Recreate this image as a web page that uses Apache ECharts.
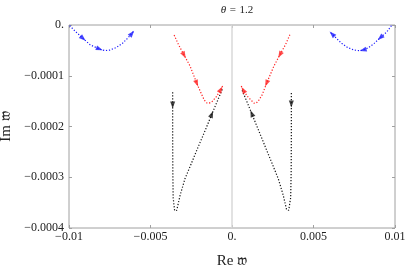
<!DOCTYPE html>
<html><head><meta charset="utf-8">
<script src="https://cdn.jsdelivr.net/npm/echarts@6/dist/echarts.min.js"></script>
<style>html,body{margin:0;padding:0;background:#fff}#c{width:407px;height:271px}</style>
</head><body><div id="c"></div>
<script>
// ---- tick labels ----
var xTickLabels = ['\u22120.01', '\u22120.005', '0.', '0.005', '0.01'];
var yTickLabels = ['\u22120.0004', '\u22120.0003', '\u22120.0002', '\u22120.0001', '0.'];
var xName = 'Re \ud835\udd34';
var yName = 'Im \ud835\udd34';

// ---- curves (x, y in units of 1e-5) ----
var blueLeftX  = [-0.00996, -0.0096, -0.00914, -0.0087, -0.00813, -0.0078, -0.0075, -0.0071, -0.0067, -0.0064, -0.00614, -0.0060];
var blueLeftY  = [-0.13, -1.3, -2.64, -3.9, -4.74, -5.05, -4.94, -4.44, -3.54, -2.6, -1.65, -1.0];
var blueLeftArrows = [2, 4, 10];

var blueRightX = [0.00978, 0.0095, 0.0091, 0.0087, 0.00835, 0.00804, 0.0078, 0.0075, 0.0071, 0.0067, 0.0064, 0.00614, 0.0060];
var blueRightY = [-0.13, -1.35, -2.5, -3.7, -4.5, -4.94, -5.05, -4.94, -4.44, -3.54, -2.6, -1.77, -1.32];
var blueRightArrows = [2, 5, 11];

var redLeftX = [-0.00355, -0.00329, -0.00294, -0.00257, -0.00216, -0.00186, -0.00170, -0.00155, -0.00140, -0.00124, -0.00094, -0.00069, -0.00053];
var redLeftY = [-1.98, -3.82, -5.93, -8.1, -11.5, -13.7, -14.8, -15.36, -15.4, -15.16, -14.04, -12.72, -11.73];
var redLeftArrows = [2, 4, 11];

var redRightX = [0.00355, 0.00329, 0.00294, 0.00257, 0.00212, 0.00186, 0.00165, 0.00150, 0.00135, 0.00124, 0.00094, 0.00069, 0.00053];
var redRightY = [-1.91, -3.82, -5.87, -8.1, -11.5, -13.7, -14.8, -15.36, -15.4, -15.2, -14.04, -12.8, -11.8];
var redRightArrows = [2, 4, 11];

var blackLeftX = [-0.00364, -0.00364, -0.00364, -0.00363, -0.00361, -0.00352, -0.00339, -0.00318, -0.00288, -0.00247, -0.00206, -0.00165, -0.00124, -0.00094, -0.00073, -0.00059];
var blackLeftY = [-13.25, -15.75, -22, -29, -34, -36.6, -36.5, -33.5, -30.25, -27.1, -23.9, -20.8, -17.6, -15.3, -13.7, -12.59];
var blackLeftArrows = [1, 12];

var blackRightX = [0.00364, 0.00364, 0.00364, 0.00363, 0.00360, 0.00348, 0.00335, 0.00314, 0.00284, 0.00246, 0.00206, 0.00165, 0.00121, 0.00094, 0.00073, 0.00059];
var blackRightY = [-13.4, -15.56, -22, -29, -34, -36.5, -36.4, -33.5, -30.3, -27.3, -24.15, -20.9, -17.45, -15.3, -13.7, -12.6];
var blackRightArrows = [1, 12];

var zeroLineX = [0, 0];
var zeroLineY = [0, -40];

var xMin = -0.01, xMax = 0.01, xStep = 0.005;
var yMin = -0.0004, yMax = 0, yStep = 0.0001;
var yUnit = 1e-5;

var curves = [
  {x: blueLeftX, y: blueLeftY, a: blueLeftArrows, c: '#1a1aff'},
  {x: blueRightX, y: blueRightY, a: blueRightArrows, c: '#1a1aff'},
  {x: redLeftX, y: redLeftY, a: redLeftArrows, c: '#ff2020'},
  {x: redRightX, y: redRightY, a: redRightArrows, c: '#ff2020'},
  {x: blackLeftX, y: blackLeftY, a: blackLeftArrows, c: '#111111'},
  {x: blackRightX, y: blackRightY, a: blackRightArrows, c: '#111111'}
];

function pts(xs, ys) { return xs.map(function (v, i) { return [v, ys[i] * yUnit]; }); }

var FONT = 'Liberation Serif, DejaVu Serif, serif';
var chart = echarts.init(document.getElementById('c'), null, {renderer: 'canvas'});

function tickLab(arr, min, step) {
  return function (v) { var i = Math.round((v - min) / step); return arr[i] !== undefined ? arr[i] : ''; };
}

var series = [{
  type: 'line', data: pts(zeroLineX, zeroLineY), symbol: 'none', silent: true,
  lineStyle: {color: '#d9d9d9', width: 1.5}, z: 1
}];
curves.forEach(function (c) {
  series.push({
    type: 'line', data: pts(c.x, c.y), symbol: 'none', silent: true,
    lineStyle: {color: c.c, width: 1.2, type: [1.2, 1.8]}, z: 2
  });
});

var tickStyle = {show: true, inside: true, length: 3, lineStyle: {color: '#a0a0a0'}};
var option = {
  animation: false,
  title: {
    text: '{i|\u03b8}\u2004=\u20041.2', left: 232, top: 0, textAlign: 'center',
    textStyle: {fontFamily: FONT, fontSize: 11, fontWeight: 'normal', color: '#222',
      rich: {i: {fontFamily: FONT, fontStyle: 'italic', fontSize: 11, color: '#222'}}}
  },
  grid: {left: 69, right: 12, top: 25, bottom: 43, show: true, borderColor: '#a0a0a0', borderWidth: 1,
    containLabel: false, outerBoundsMode: 'none'},
  xAxis: [{
    type: 'value', min: xMin, max: xMax, interval: xStep, position: 'bottom',
    axisLine: {show: false, onZero: false}, splitLine: {show: false}, axisTick: tickStyle,
    axisLabel: {formatter: tickLab(xTickLabels, xMin, xStep), fontFamily: FONT, fontSize: 12, color: '#222', margin: 3},
    name: xName, nameLocation: 'middle', nameGap: 26,
    nameTextStyle: {fontFamily: FONT, fontSize: 15, color: '#222'}
  }, {
    type: 'value', min: xMin, max: xMax, interval: xStep, position: 'top',
    axisLine: {show: false, onZero: false}, splitLine: {show: false}, axisLabel: {show: false},
    axisTick: tickStyle
  }],
  yAxis: [{
    type: 'value', min: yMin, max: yMax, interval: yStep, position: 'left',
    axisLine: {show: false, onZero: false}, splitLine: {show: false}, axisTick: tickStyle,
    axisLabel: {formatter: tickLab(yTickLabels, yMin, yStep), fontFamily: FONT, fontSize: 12, color: '#222', margin: 5},
    name: yName, nameLocation: 'middle', nameGap: 50, nameRotate: 90,
    nameTextStyle: {fontFamily: FONT, fontSize: 15, color: '#222'}
  }, {
    type: 'value', min: yMin, max: yMax, interval: yStep, position: 'right',
    axisLine: {show: false, onZero: false}, splitLine: {show: false}, axisLabel: {show: false},
    axisTick: tickStyle
  }],
  series: series
};
chart.setOption(option);

// arrows: direction from neighbouring curve points in pixel space
var arrowData = [];
curves.forEach(function (c) {
  var p = pts(c.x, c.y);
  c.a.forEach(function (i) {
    var a = chart.convertToPixel({xAxisIndex: 0, yAxisIndex: 0}, p[Math.max(0, i - 1)]);
    var b = chart.convertToPixel({xAxisIndex: 0, yAxisIndex: 0}, p[Math.min(p.length - 1, i + 1)]);
    var dx = b[0] - a[0], dy = b[1] - a[1];
    var rot = Math.atan2(-dx, -dy) * 180 / Math.PI;
    arrowData.push({value: p[i], symbolRotate: rot, itemStyle: {color: c.c}});
  });
});
series.push({
  type: 'scatter', data: arrowData, symbol: 'triangle', symbolSize: [5, 7], silent: true, z: 3
});
chart.setOption({series: series});
</script></body></html>
